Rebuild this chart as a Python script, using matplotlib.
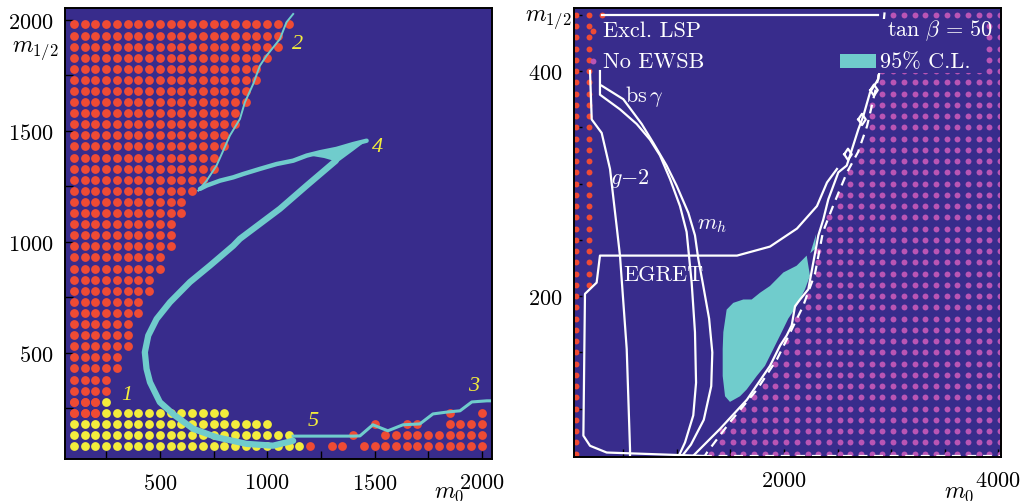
import numpy as np
import matplotlib
matplotlib.use("Agg")
import matplotlib.pyplot as plt
from matplotlib.patches import Polygon, Rectangle

plt.rcParams['font.family'] = ['cmr10', 'DejaVu Serif']
plt.rcParams['mathtext.fontset'] = 'cm'
plt.rcParams['axes.formatter.use_mathtext'] = True

BG = '#382c8c'
RED = '#ef4b34'
YELLOW = '#f3ec3c'
CYAN = '#70cccc'
MAGENTA = '#b955b5'

# ---------------- left panel (m0, m1/2 scan, numbered regions) ----------------
left_rows = [1980, 1930, 1880, 1830, 1780, 1730, 1680, 1630, 1580, 1530, 1480, 1430,
             1380, 1330, 1280, 1230, 1180, 1130, 1080, 1030, 980, 930, 880, 830,
             780, 730, 680, 630, 580, 530, 480, 430, 380, 330, 280, 230]
left_red_max = [1100, 1050, 1050, 1000, 950, 950, 900, 900, 850, 850, 800, 800,
                750, 750, 700, 650, 600, 600, 550, 550, 550, 500, 500, 450,
                450, 400, 400, 350, 350, 350, 300, 300, 250, 250, 200, 200]

yellow_rows = [280, 230, 180, 130, 80]
yellow_min = [250, 250, 100, 100, 100]
yellow_max = [250, 800, 1000, 1100, 1150]

low_red_rows = [230, 180, 130, 80]
low_red_m0 = [
    [1850, 2000],
    [1500, 1650, 1700, 1850, 1900, 1950, 2000],
    [1400, 1550, 1600, 1650, 1700, 1750, 1800, 1850, 1900, 1950, 2000],
    [1200, 1300, 1350, 1450, 1500, 1550, 1600, 1650, 1700, 1750, 1800, 1850,
     1900, 1950, 2000],
]

# cyan edge of the excluded wedge
edge_m0 = [679, 718, 764, 795, 826, 873, 896, 935, 966, 997, 1059, 1090, 1121]
edge_m12 = [1231, 1276, 1344, 1411, 1479, 1554, 1629, 1712, 1794, 1839, 1914, 1990, 2027]

# thin upper branch up to the tip (4)
branch_m0 = [687, 718, 780, 842, 888, 966, 1044, 1121, 1184, 1246, 1323, 1401, 1463]
branch_m12 = [1239, 1254, 1276, 1291, 1306, 1329, 1351, 1366, 1389, 1404, 1419, 1441, 1456]

tip_m0 = [1180, 1300, 1463, 1400, 1330, 1265]
tip_m12 = [1392, 1418, 1456, 1410, 1360, 1378]

# main band, from the tip down to the yellow area
band_m0 = [1320, 1184, 1059, 935, 873, 842, 733, 640, 547, 485, 446, 430, 438,
           454, 500, 570, 655, 764, 904, 1027, 1121]
band_m12 = [1366, 1254, 1149, 1059, 1014, 983, 893, 819, 728, 653, 578, 503, 428,
            368, 278, 218, 158, 120, 90, 82, 104]

# thin line along the bottom (5 -> 3)
low_m0 = [1121, 1399, 1432, 1492, 1562, 1632, 1711, 1772, 1842, 1898, 1953, 2023, 2060]
low_m12 = [125, 125, 126, 176, 149, 176, 180, 225, 234, 239, 279, 284, 284]

region_labels = ['1', '2', '3', '4', '5']
region_m0 = [347, 1143, 1963, 1516, 1213]
region_m12 = [311, 1892, 351, 1432, 194]

# ---------------- right panel (tan beta = 50) ----------------
lsp_edge_m0 = [1240, 1280, 1495, 1748, 1935, 2075, 2178, 2290, 2364, 2458, 2589,
               2692, 2776, 2879, 2944]
lsp_edge_m12 = [55, 61, 88, 117, 144, 171, 191, 220, 257, 280, 310, 328, 351, 393, 456]

cl_m0 = [1464, 1526, 1620, 1698, 1776, 1869, 1994, 2118, 2181, 2212, 2243, 2196,
         2118, 2040, 1963, 1869, 1822, 1745, 1651, 1589, 1495, 1449, 1427, 1427, 1433]
cl_m12 = [188, 194, 197, 197, 203, 209, 221, 227, 233, 236, 218, 206, 191, 180,
          165, 147, 138, 129, 117, 111, 106, 111, 129, 153, 168]
sliver_m0 = [2245, 2300, 2290]
sliver_m12 = [238, 255, 242]

egret_m0 = [1240, 343, 187, 125, 140, 249, 280, 1561, 1869, 2121, 2308, 2402, 2495]
egret_m12 = [58, 61, 67, 76, 202, 212, 236, 236, 244, 260, 280, 301, 313]

g2_m0 = [187, 203, 296, 374, 436, 467, 530, 561, 561]
g2_m12 = [400, 357, 345, 313, 262, 236, 153, 64, 55]

bsg_m0 = [280, 280, 467, 623, 748, 841, 935, 1028, 1090, 1137, 1168, 1178, 1152,
          1075, 1012]
bsg_m12 = [400, 379, 366, 353, 339, 325, 304, 280, 257, 212, 168, 123, 94, 70, 57]

mh_m0 = [296, 498, 670, 779, 903, 997, 1106, 1168, 1199, 1240, 1300, 1330, 1320,
         1250, 1130, 1040]
mh_m12 = [387, 375, 353, 336, 316, 298, 274, 254, 233, 212, 180, 150, 120, 90, 68, 57]

jag_m0 = [1140, 1402, 1654, 1869, 1963, 2025, 2072, 2103, 2150, 2227, 2274, 2321,
          2367, 2414, 2461, 2508, 2586, 2617, 2694, 2741, 2804, 2882, 2900]
jag_m12 = [57, 82, 108, 138, 156, 165, 174, 191, 197, 206, 230, 254, 268, 286,
           298, 310, 316, 325, 348, 360, 381, 393, 405]

loop_m0 = [2841, 2729, 2598]
loop_m12 = [383, 357, 326]


def style_axes(ax, xlim, ylim):
    ax.set_facecolor(BG)
    ax.set_xlim(*xlim)
    ax.set_ylim(*ylim)
    ax.tick_params(which='both', direction='in', top=False, right=False,
                   labelsize=16, length=6, width=1.0)
    ax.tick_params(axis='x', pad=10)
    ax.tick_params(axis='y', pad=8)
    for s in ax.spines.values():
        s.set_linewidth(1.4)
        s.set_zorder(10)


def draw_left(fig):
    ax = fig.add_axes([0.0630, 0.0837, 0.4142, 0.8984])
    style_axes(ax, (58, 2047), (22, 2054))
    ax.set_xticks([500, 1000, 1500, 2000])
    ax.set_xticks(np.arange(250, 2001, 250), minor=True)
    ax.set_yticks([500, 1000, 1500, 2000])
    ax.set_yticks(np.arange(250, 2001, 250), minor=True)
    ax.tick_params(which='minor', length=6)

    rx, ry = [], []
    for m12, mx in zip(left_rows, left_red_max):
        for m0 in range(100, mx + 1, 50):
            rx.append(m0)
            ry.append(m12)
    for m12, vals in zip(low_red_rows, low_red_m0):
        for m0 in vals:
            rx.append(m0)
            ry.append(m12)
    for m12, m0 in [(230, 100), (230, 150), (230, 200), (280, 100), (280, 150), (280, 200)]:
        rx.append(m0)
        ry.append(m12)
    ax.scatter(rx, ry, s=40, color=RED, lw=0, zorder=2)

    yx, yy = [], []
    for m12, lo, hi in zip(yellow_rows, yellow_min, yellow_max):
        for m0 in range(lo, hi + 1, 50):
            yx.append(m0)
            yy.append(m12)
    ax.scatter(yx, yy, s=40, color=YELLOW, lw=0, zorder=2)

    ax.plot(edge_m0, edge_m12, color=CYAN, lw=1.4, zorder=3)
    ax.plot(branch_m0, branch_m12, color=CYAN, lw=3.2, zorder=3, solid_capstyle='round')
    ax.add_patch(Polygon(np.column_stack([tip_m0, tip_m12]), closed=True,
                         color=CYAN, lw=0, zorder=3))
    ax.plot(band_m0, band_m12, color=CYAN, lw=4.5, zorder=3, solid_capstyle='round')
    ax.plot(low_m0, low_m12, color=CYAN, lw=2.2, zorder=3)

    for t, x, y in zip(region_labels, region_m0, region_m12):
        ax.text(x, y, t, color=YELLOW, fontsize=16, family='Liberation Serif',
                style='italic', ha='center', va='center', zorder=4)

    fig.text(0.034, 0.900, r'$m_{1/2}$', fontsize=17, ha='center', va='center')
    fig.text(0.436, 0.018, r'$m_0$', fontsize=17, ha='center', va='center')


def draw_right(fig):
    ax = fig.add_axes([0.5567, 0.0876, 0.4142, 0.8944])
    style_axes(ax, (37, 4028), (57, 456))
    ax.set_xticks([2000, 4000])
    ax.set_xticks(np.arange(500, 4001, 500), minor=True)
    ax.set_yticks([200, 400])
    ax.set_yticks(np.arange(100, 451, 50), minor=True)
    ax.tick_params(which='minor', length=6)

    rows = np.arange(60, 451, 10)
    cols = np.arange(20, 4021, 100)
    gx, gy = np.meshgrid(cols, rows)
    gx, gy = gx.ravel(), gy.ravel()
    edge = np.interp(gy, lsp_edge_m12, lsp_edge_m0)
    keep = gx > edge - 15
    ax.scatter(gx[keep], gy[keep], s=18, color=MAGENTA, lw=0, zorder=2)

    rx = [60] * len(rows) + [180] * int(np.sum(rows >= 210)) + [300]
    ry = list(rows) + list(rows[rows >= 210]) + [450]
    ax.scatter(rx, ry, s=18, color=RED, lw=0, zorder=2)

    ax.add_patch(Polygon(np.column_stack([cl_m0, cl_m12]), closed=True,
                         color=CYAN, lw=0, zorder=3))
    ax.add_patch(Polygon(np.column_stack([sliver_m0, sliver_m12]), closed=True,
                         color=CYAN, lw=0, zorder=3))

    lw = 1.6
    ax.plot(egret_m0, egret_m12, color='white', lw=lw, zorder=4)
    ax.plot(g2_m0, g2_m12, color='white', lw=lw, zorder=4)
    ax.plot(bsg_m0, bsg_m12, color='white', lw=lw, zorder=4)
    ax.plot(mh_m0, mh_m12, color='white', lw=lw, zorder=4)
    ax.plot(jag_m0, jag_m12, color='white', lw=lw, zorder=4)
    ax.plot(lsp_edge_m0, lsp_edge_m12, color='white', lw=lw, ls=(0, (4, 3)), zorder=4)
    ax.plot([1240, 4028], [58, 58], color='white', lw=lw, ls=(0, (4, 3)), zorder=4)
    ax.plot([300, 2880], [450, 450], color='white', lw=lw, zorder=4)
    for cx, cy in zip(loop_m0, loop_m12):
        ax.plot([cx - 35, cx, cx + 35, cx, cx - 35], [cy, cy + 5, cy, cy - 5, cy],
                color='white', lw=lw, zorder=4)

    # legend box on the top right hides the dots behind it
    ax.add_patch(Rectangle((2870, 398), 1000, 48, color=BG, lw=0, zorder=4.5))

    txt = dict(color='white', fontsize=16, va='center', zorder=5)
    ax.scatter([215], [436], s=18, color=RED, lw=0, zorder=5)
    ax.scatter([215], [409], s=18, color=MAGENTA, lw=0, zorder=5)
    ax.text(308, 436, 'Excl. LSP', ha='left', **txt)
    ax.text(308, 409, 'No EWSB', ha='left', **txt)
    ax.text(3950, 437, r'$\tan\,\beta\, =\, 50$', ha='right', **txt)
    ax.add_patch(Rectangle((2523, 402.5), 337, 12.5, color=CYAN, lw=0, zorder=5))
    ax.text(2897, 409, '95% C.L.', ha='left', **txt)
    ax.text(514, 378, r'$\mathrm{bs}\,\gamma$', ha='left', **txt)
    ax.text(374, 305, r'$g{-}2$', ha='left', **txt)
    ax.text(1187, 264, r'$m_h$', ha='left', **txt)
    ax.text(495, 219, 'EGRET', ha='left', **txt)

    fig.text(0.532, 0.960, r'$m_{1/2}$', fontsize=17, ha='center', va='center')
    fig.text(0.930, 0.018, r'$m_0$', fontsize=17, ha='center', va='center')


def main():
    fig = plt.figure(figsize=(10.31, 5.02), dpi=100)
    draw_left(fig)
    draw_right(fig)
    fig.savefig('out.png', dpi=100)


if __name__ == "__main__":
    main()
